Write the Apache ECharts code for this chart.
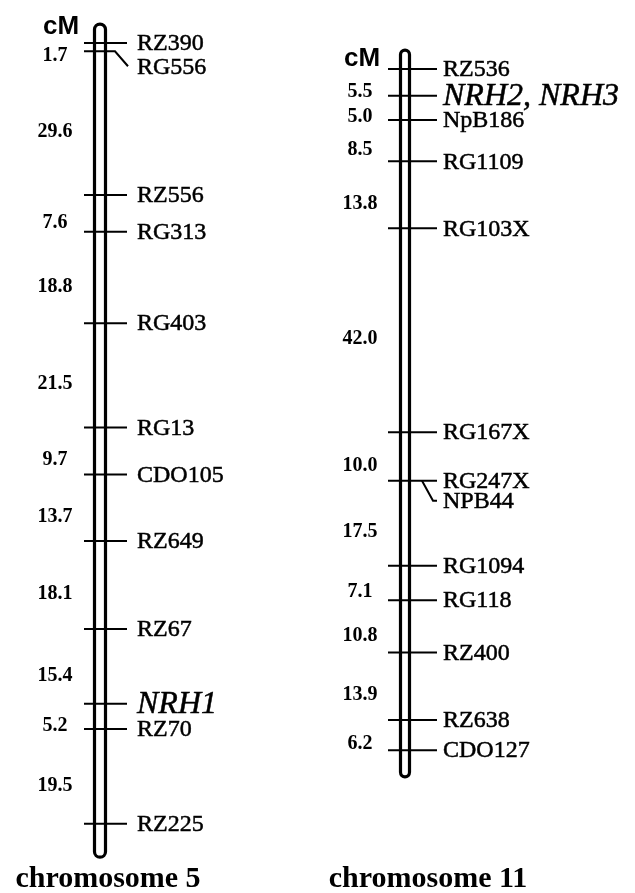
<!DOCTYPE html>
<html>
<head>
<meta charset="utf-8">
<script src="https://cdn.jsdelivr.net/npm/echarts@6/dist/echarts.min.js"></script>
<style>
html,body{margin:0;padding:0;background:#fff;}
#chart{width:635px;height:893px;}
</style>
</head>
<body>
<div id="chart"></div>
<script>
// ---- DATA ----
var chromosomes = ['chromosome 5', 'chromosome 11'];
var unitLabel = 'cM';

var chr5Markers = ['RZ390', 'RG556', 'RZ556', 'RG313', 'RG403', 'RG13', 'CDO105', 'RZ649', 'RZ67', 'NRH1', 'RZ70', 'RZ225'];
var chr5Intervals = [1.7, 29.6, 7.6, 18.8, 21.5, 9.7, 13.7, 18.1, 15.4, 5.2, 19.5];
var chr5Extent = [-3.9, 167.7];

var chr11Markers = ['RZ536', 'NRH2, NRH3', 'NpB186', 'RG1109', 'RG103X', 'RG167X', 'RG247X|NPB44', 'RG1094', 'RG118', 'RZ400', 'RZ638', 'CDO127'];
var chr11Intervals = [5.5, 5.0, 8.5, 13.8, 42.0, 10.0, 17.5, 7.1, 10.8, 13.9, 6.2];
var chr11Extent = [-3.9, 145.8];

// markers whose label is pushed down with a slanted leader
var chr5Shifted = ['RG556'];
var chr11Shifted = ['NPB44'];

// ---- LAYOUT / STYLE ----
var PX_PER_CM = 4.855;
var layouts = [
  {cx: 100, zeroY: 43, barW: 11, tickL: -16, tickR: 27, labelX: 37, intX: -45, cmDx: -39, cmDy: -16,
   leaderFrom: 15, leaderTo: 28, leaderDy: 15, leaderTail: 0, titleX: 108},
  {cx: 405, zeroY: 69, barW: 9, tickL: -17, tickR: 32, labelX: 38, intX: -45, cmDx: -43, cmDy: -10,
   leaderFrom: 17, leaderTo: 28, leaderDy: 20, leaderTail: 4, titleX: 428}
];
var yMin = -4;
var yMaxes = [168, 146];

function cumulative(intervals) {
  var out = [0];
  for (var i = 0; i < intervals.length; i++) out.push(Math.round((out[i] + intervals[i]) * 10) / 10);
  return out;
}

var chrData = [
  {markers: chr5Markers, intervals: chr5Intervals, extent: chr5Extent, shifted: chr5Shifted},
  {markers: chr11Markers, intervals: chr11Intervals, extent: chr11Extent, shifted: chr11Shifted}
];

var SERIF = '"Liberation Serif", "Times New Roman", serif';
var chart = echarts.init(document.getElementById('chart'), null, {renderer: 'canvas'});

var grids = [], xAxes = [], yAxes = [], series = [], graphics = [];

chrData.forEach(function (chr, ci) {
  var L = layouts[ci];
  var pos = cumulative(chr.intervals);
  var yMax = yMaxes[ci];
  grids.push({left: L.cx, width: 100, top: L.zeroY + yMin * PX_PER_CM, height: (yMax - yMin) * PX_PER_CM});
  xAxes.push({gridIndex: ci, type: 'value', min: 0, max: 1, show: false});
  yAxes.push({gridIndex: ci, type: 'value', min: yMin, max: yMax, inverse: true, show: false});

  // chromosome bar
  series.push({
    type: 'custom', xAxisIndex: ci, yAxisIndex: ci, clip: false, silent: true, z: 1,
    data: [[0, chr.extent[0], chr.extent[1]]],
    renderItem: function (params, api) {
      var p0 = api.coord([0, api.value(1)]);
      var p1 = api.coord([0, api.value(2)]);
      return {
        type: 'rect',
        shape: {x: p0[0] - L.barW / 2, y: p0[1], width: L.barW, height: p1[1] - p0[1], r: L.barW / 2},
        style: {fill: '#fff', stroke: '#000', lineWidth: 3.2}
      };
    }
  });

  // markers, tick lines and interval labels
  series.push({
    type: 'custom', xAxisIndex: ci, yAxisIndex: ci, clip: false, silent: true, z: 2,
    data: pos.map(function (p, i) { return [0, p, i]; }),
    renderItem: function (params, api) {
      var i = api.value(2);
      var pt = api.coord([0, api.value(1)]);
      var x = pt[0], y = pt[1];
      var names = chr.markers[i].split('|');
      var children = [];
      var mainName = names[0];
      var shiftedMain = chr.shifted.indexOf(mainName) >= 0;
      var lineStyle = {stroke: '#000', lineWidth: 2, fill: null};
      if (shiftedMain) {
        children.push({type: 'polyline', shape: {points: [[x + L.tickL, y], [x + L.leaderFrom, y], [x + L.leaderTo, y + L.leaderDy]]}, style: lineStyle});
      } else {
        children.push({type: 'line', shape: {x1: x + L.tickL, y1: y, x2: x + L.tickR, y2: y}, style: lineStyle});
      }
      names.forEach(function (nm, k) {
        var shifted = chr.shifted.indexOf(nm) >= 0;
        if (shifted && k > 0) {
          children.push({type: 'polyline', shape: {points: [[x + L.leaderFrom, y], [x + L.leaderTo, y + L.leaderDy], [x + L.leaderTo + L.leaderTail, y + L.leaderDy]]}, style: lineStyle});
        }
        var italic = nm.indexOf('NRH') === 0;
        children.push({
          type: 'text', x: x + L.labelX, y: y + (shifted ? L.leaderDy : 0) + 1,
          style: {text: nm, fill: '#000', fontFamily: SERIF, fontSize: italic ? 32 : 24,
                  fontStyle: italic ? 'italic' : 'normal', align: 'left', verticalAlign: 'middle',
                  stroke: '#000', lineWidth: 0.5}
        });
      });
      if (i > 0) {
        var prev = api.coord([0, pos[i - 1]]);
        children.push({
          type: 'text', x: x + L.intX, y: (prev[1] + y) / 2 + 9,
          style: {text: chr.intervals[i - 1].toFixed(1), fill: '#000', fontFamily: SERIF, fontSize: 20,
                  fontWeight: 'bold', align: 'center', verticalAlign: 'middle'}
        });
      } else {
        children.push({
          type: 'text', x: x + L.cmDx, y: y + L.cmDy,
          style: {text: unitLabel, fill: '#000', fontFamily: '"Liberation Sans", Arial, sans-serif', fontWeight: 'bold',
                  fontSize: 26, align: 'center', verticalAlign: 'middle'}
        });
      }
      return {type: 'group', children: children};
    }
  });

  graphics.push({
    type: 'text', x: L.titleX, y: 879,
    style: {text: chromosomes[ci], fill: '#000', font: 'bold 30px ' + SERIF, textAlign: 'center', textVerticalAlign: 'middle'}
  });
});

chart.setOption({
  animation: false,
  backgroundColor: '#fff',
  grid: grids,
  xAxis: xAxes,
  yAxis: yAxes,
  series: series,
  graphic: {elements: graphics}
});
</script>
</body>
</html>
